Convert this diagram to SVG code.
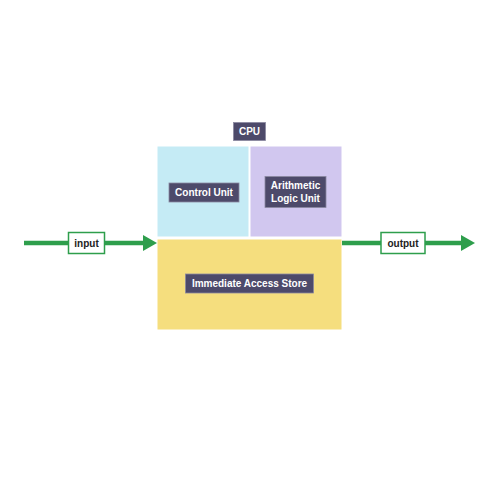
<svg xmlns="http://www.w3.org/2000/svg" width="500" height="500" viewBox="0 0 500 500">
<style>
.lbl{fill:#4d4a6a;stroke:#8a88a0;stroke-width:0.8}
.t{font-family:"Liberation Sans",Arial,sans-serif;font-size:10px;font-weight:bold;fill:#ffffff;text-anchor:middle}
.io{fill:#ffffff;stroke:#2e9e4c;stroke-width:1.5}
.iot{font-family:"Liberation Sans",Arial,sans-serif;font-size:10px;font-weight:bold;fill:#222222;text-anchor:middle}
.wire{stroke:#2e9e4c;stroke-width:4.5;fill:none}
</style>
<rect width="500" height="500" fill="#ffffff"/>
<g id="connectors">
<line class="wire" x1="24" y1="243" x2="145" y2="243"/>
<polygon points="143,235 157,243 143,251" fill="#2e9e4c"/>
<line class="wire" x1="342" y1="243" x2="463" y2="243"/>
<polygon points="461,235 475,243 461,251" fill="#2e9e4c"/>
</g>
<g id="control-unit">
<rect x="157.5" y="146.5" width="91" height="90" fill="#c5ebf5"/>
<rect class="lbl" x="169" y="183" width="70" height="19"/>
<text class="t" x="204" y="196">Control Unit</text>
</g>
<g id="alu">
<rect x="250.5" y="146.5" width="91" height="90" fill="#d1c7ef"/>
<rect class="lbl" x="265" y="176.5" width="61" height="31"/>
<text class="t" x="295.5" y="189">Arithmetic</text>
<text class="t" x="295.5" y="202">Logic Unit</text>
</g>
<g id="ias">
<rect x="157.5" y="239.5" width="184" height="90" fill="#f5de7e"/>
<rect class="lbl" x="185.5" y="274" width="128" height="19"/>
<text class="t" x="249.5" y="287">Immediate Access Store</text>
</g>
<g id="cpu">
<rect class="lbl" x="233.5" y="122.5" width="32" height="18"/>
<text class="t" x="249.5" y="135">CPU</text>
</g>
<g id="input">
<rect class="io" x="68.5" y="232.5" width="36" height="21"/>
<text class="iot" x="86.5" y="246.5">input</text>
</g>
<g id="output">
<rect class="io" x="381" y="232.5" width="44" height="21"/>
<text class="iot" x="403" y="246.5">output</text>
</g>
</svg>
